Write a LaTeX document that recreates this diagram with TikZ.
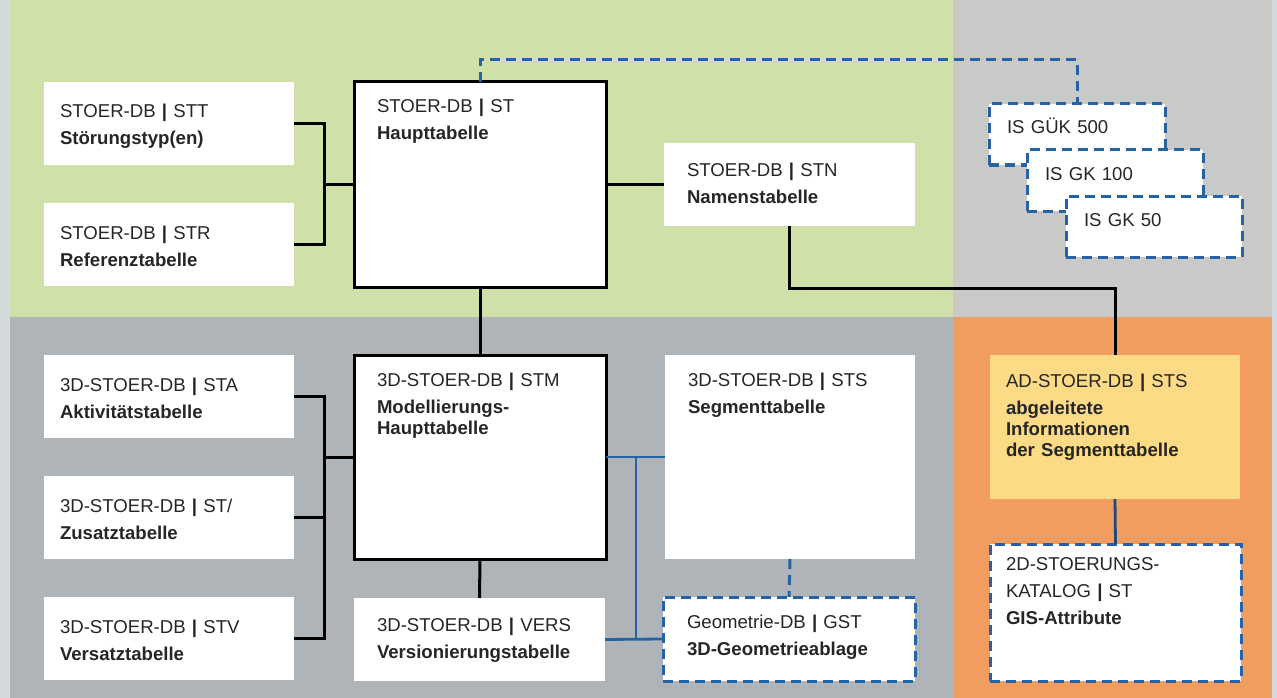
\documentclass[tikz,border=0pt]{standalone}
\usepackage{fontspec}
\setmainfont{Liberation Sans}
\usetikzlibrary{positioning}
\definecolor{bgedge}{HTML}{D4D9DD}
\definecolor{bggreen}{HTML}{D0E0A9}
\definecolor{bgstone}{HTML}{C9C9C7}
\definecolor{bgslate}{HTML}{AEB4B8}
\definecolor{bgorange}{HTML}{F19D60}
\definecolor{adyellow}{HTML}{FDDA85}
\definecolor{linkblue}{HTML}{2563A6}
\definecolor{textdark}{HTML}{262626}

\begin{document}
\begin{tikzpicture}[
    x=1pt,
    y=-1pt,
    font=\fontsize{18.6}{21}\selectfont,
    tablebox/.style={
        fill=white,
        anchor=north west,
        align=left,
        text=textdark,
        outer sep=0pt,
        inner ysep=0pt,
        inner xsep=16pt,
        text width=218pt,
        text height=36pt,
        text depth=47pt
    },
    midbox/.style={
        tablebox,
        inner xsep=23pt,
        text width=205pt,
        text height=33pt,
        text depth=50pt
    },
    mainbox/.style={
        tablebox,
        draw=black,
        line width=3pt,
        inner xsep=23pt,
        text width=206pt,
        text height=31pt,
        text depth=174pt
    },
    segbox/.style={
        tablebox,
        inner xsep=23pt,
        text width=204pt,
        text height=31pt,
        text depth=173pt
    },
    geobox/.style={
        tablebox,
        draw=linkblue,
        line width=3pt,
        dash pattern=on 10pt off 6pt,
        inner xsep=24pt,
        text width=204pt,
        text height=31pt,
        text depth=53pt
    },
    adbox/.style={
        tablebox,
        fill=adyellow,
        text width=218pt,
        text height=32pt,
        text depth=112pt
    },
    katbox/.style={
        geobox,
        inner xsep=16pt,
        text width=219pt,
        text height=26pt,
        text depth=111pt
    },
    isbox/.style={
        geobox,
        inner xsep=18pt,
        text width=140pt,
        text height=30pt,
        text depth=31pt
    },
    link/.style={
        draw=black,
        line width=3pt
    },
    bluelink/.style={
        draw=linkblue,
        line width=2.8pt
    },
    dashlink/.style={
        bluelink,
        line width=3pt,
        dash pattern=on 10pt off 6pt
    }
]

% -----------------------------------------------------
% Hintergrund
% -----------------------------------------------------

\useasboundingbox (0,0) rectangle (1277,698);
\fill[bgedge] (0,0) rectangle (1277,698);
\fill[bggreen] (10,0) rectangle (953,317);
\fill[bgstone] (953,0) rectangle (1272,317);
\fill[bgslate] (10,317) rectangle (953,698);
\fill[bgorange] (953,317) rectangle (1272,698);

% -----------------------------------------------------
% Tabellen
% -----------------------------------------------------

\node[tablebox] (stt) at (44,82)
    {STOER-DB \textbf{|} STT\\[6pt]\textbf{Störungstyp(en)}};
\node[tablebox] (str) at (44,203)
    {STOER-DB \textbf{|} STR\\[6pt]\textbf{Referenztabelle}};
\node[mainbox] (st) at (354,82)
    {STOER-DB \textbf{|} ST\\[6pt]\textbf{Haupttabelle}};
\node[midbox] (stn) at (664,143)
    {STOER-DB \textbf{|} STN\\[6pt]\textbf{Namenstabelle}};

\node[isbox] (guk) at (989,104) {IS GÜK 500};
\node[isbox] (gk100) at (1027,150) {IS GK 100};
\node[isbox] (gk50) at (1066,196) {IS GK 50};

\node[tablebox] (sta) at (44,355)
    {3D-STOER-DB \textbf{|} STA\\[6pt]\textbf{Aktivitätstabelle}};
\node[tablebox] (stz) at (44,476)
    {3D-STOER-DB \textbf{|} ST/\\[6pt]\textbf{Zusatztabelle}};
\node[tablebox] (stv) at (44,597)
    {3D-STOER-DB \textbf{|} STV\\[6pt]\textbf{Versatztabelle}};
\node[mainbox, text depth=173pt] (stm) at (354,355)
    {3D-STOER-DB \textbf{|} STM\\[6pt]\textbf{Modellierungs-}\\\textbf{Haupttabelle}};
\node[midbox] (vers) at (354,598)
    {3D-STOER-DB \textbf{|} VERS\\[6pt]\textbf{Versionierungstabelle}};
\node[segbox] (sts) at (665,355)
    {3D-STOER-DB \textbf{|} STS\\[6pt]\textbf{Segmenttabelle}};
\node[geobox] (gst) at (663,597)
    {Geometrie-DB \textbf{|} GST\\[6pt]\textbf{3D-Geometrieablage}};

\node[adbox] (ad) at (990,355)
    {AD-STOER-DB \textbf{|} STS\\[6pt]\textbf{abgeleitete}\\\textbf{Informationen}\\\textbf{der Segmenttabelle}};
\node[katbox] (kat) at (990,544)
    {2D-STOERUNGS-\\[6pt]KATALOG \textbf{|} ST\\[6pt]\textbf{GIS-Attribute}};

% -----------------------------------------------------
% Verbindungen
% -----------------------------------------------------

\draw[link] (stt.east) -- ++(30,0) |- (str.east);
\draw[link] (st.west) -- ++(-30,0);
\draw[link] (st.east) -- (stn.west);
\draw[link] (st.south) -- (stm.north);
\draw[link] (stn.south) -- ++(0,62) -| (ad.north);
\draw[dashlink] (st.north) -- ++(0,-22) -| (guk.north);

\draw[link] (sta.east) -- ++(30,0) |- (stv.east);
\draw[link] (stz.east) -- ++(30,0);
\draw[link] (stm.west) -- ++(-30,0);
\draw[link] (stm.south) -- (vers.north);

% blaue Verbindungen zur Geometrie
\draw[bluelink] (stm.east) -- (sts.west);
\draw[bluelink] (stm.east) ++(30,0) |- (gst.west);
\draw[bluelink] (vers.east) -- (gst.west);
\draw[dashlink] (sts.south) -- (gst.north);

\draw[bluelink, draw=linkblue!75!black] (ad.south) -- (kat.north);

\end{tikzpicture}
\end{document}
